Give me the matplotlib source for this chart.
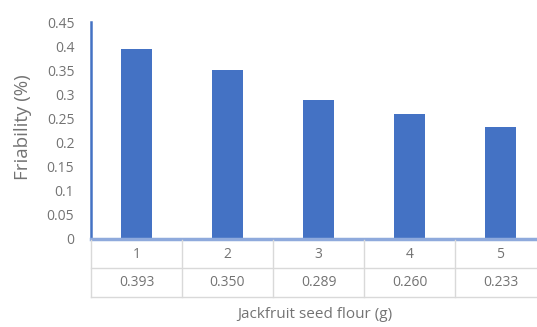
import matplotlib.pyplot as plt
from matplotlib.lines import Line2D

# Данные: масса муки из семян джекфрута и хрупкость таблеток
flour = ['1', '2', '3', '4', '5']
friability = [0.393, 0.350, 0.289, 0.260, 0.233]
yticks = [0, 0.05, 0.1, 0.15, 0.2, 0.25, 0.3, 0.35, 0.4, 0.45]

plt.rcParams['font.family'] = ['Open Sans', 'DejaVu Sans']
text_color = '#737373'
grid_color = '#d9d9d9'

W, H = 537, 327
fig = plt.figure(figsize=(W / 100, H / 100), dpi=100)

# Область графика (в пикселях): слева 91, ширина 455, низ 239, верх 22
left, right, bottom, top = 91, 546, 239, 22
ax = fig.add_axes([left / W, (H - bottom) / H, (right - left) / W, (bottom - top) / H])

x = range(len(flour))
ax.bar(x, friability, width=0.33, color='#4472c4')
ax.set_xlim(-0.5, len(flour) - 0.5)
ax.set_ylim(0, 0.45)
ax.set_yticks(yticks)
ax.set_yticklabels([f'{v:g}' for v in yticks])
ax.set_xticks([])
ax.tick_params(axis='y', length=0, labelsize=10, labelcolor=text_color, pad=12)

for s in ['top', 'right']:
    ax.spines[s].set_visible(False)
ax.spines['left'].set_color('#4472c4')
ax.spines['left'].set_linewidth(1.8)
ax.spines['bottom'].set_color('#8faadc')
ax.spines['bottom'].set_linewidth(2.5)


def fx(px):
    return px / W


def fy(py):
    return (H - py) / H


fig.text(fx(23), fy(127), 'Friability (%)', rotation=90, ha='center', va='center',
         fontsize=13.5, color=text_color)

# Таблица данных под осью
for py in [268, 297]:
    fig.add_artist(Line2D([fx(left), fx(right)], [fy(py), fy(py)], color=grid_color, lw=1))
col_w = (right - left) / len(flour)
for i in range(len(flour) + 1):
    px = left + i * col_w
    fig.add_artist(Line2D([fx(px), fx(px)], [fy(bottom + 1), fy(297)], color=grid_color, lw=1))

for i, (lab, val) in enumerate(zip(flour, friability)):
    cx = left + (i + 0.5) * col_w
    fig.text(fx(cx), fy(254), lab, ha='center', va='center', fontsize=10, color=text_color)
    fig.text(fx(cx), fy(282), f'{val:.3f}', ha='center', va='center', fontsize=10, color=text_color)

fig.text(fx(315), fy(315), 'Jackfruit seed flour (g)', ha='center', va='center',
         fontsize=11, color=text_color)

fig.savefig('out.png', dpi=100, facecolor='white')
